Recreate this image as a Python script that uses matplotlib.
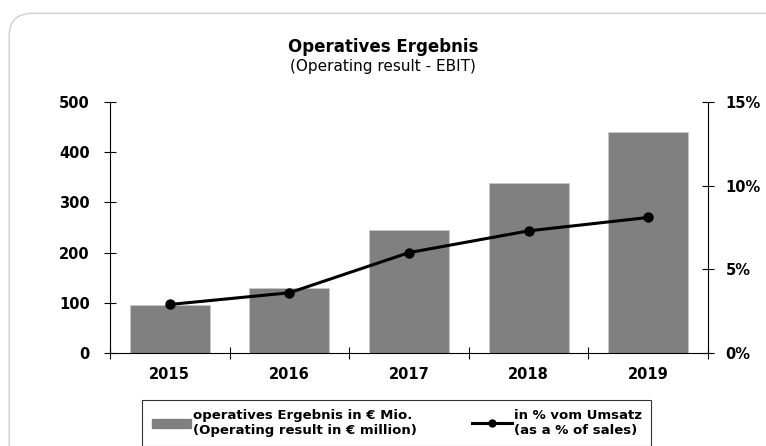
import numpy as np
import matplotlib.pyplot as plt
from matplotlib.patches import FancyBboxPatch, Patch
from matplotlib.lines import Line2D

years = ['2015', '2016', '2017', '2018', '2019']
ebit = [96, 129, 246, 338, 441]           # EUR million
ebit_pct = [2.9, 3.6, 6.0, 7.3, 8.1]      # % of sales

plt.rcParams['font.family'] = ['DejaVu Sans']
plt.rcParams['font.size'] = 10

fig = plt.figure(figsize=(7.66, 4.46), dpi=100)

# rounded outer frame (behind everything)
frame = FancyBboxPatch((0.012, -0.05), 1.05, 1.02, transform=fig.transFigure,
                       boxstyle='round,pad=0,rounding_size=0.03',
                       facecolor='white', edgecolor='#d0d0d0', linewidth=1.0,
                       mutation_aspect=766 / 446, zorder=-10)
fig.patches.append(frame)

ax = fig.add_axes([0.1436, 0.2085, 0.7807, 0.5628])
ax.set_facecolor('none')
x = np.arange(len(years))
ax.bar(x, ebit, width=0.67, color='#808080', edgecolor='#c8c8c8', linewidth=0.6, zorder=2)
ax.set_xlim(-0.5, len(years) - 0.5)
ax.set_ylim(0, 500)
ax.set_yticks(np.arange(0, 501, 100))
ax.set_xticks(x)
ax.set_xticklabels(years, fontweight='bold', fontsize=10.5)
ax.set_xticks(np.arange(-0.5, len(years), 1), minor=True)
ax.tick_params(axis='x', which='major', length=0, pad=10)
ax.tick_params(axis='x', which='minor', direction='inout', length=8, width=0.8)
ax.tick_params(axis='y', direction='inout', length=9, width=0.8, pad=10, labelsize=10.5)
for lab in ax.get_yticklabels():
    lab.set_fontweight('bold')
for s in ['top', 'right']:
    ax.spines[s].set_visible(False)
ax.spines['left'].set_linewidth(0.8)
ax.spines['bottom'].set_linewidth(0.8)

ax2 = ax.twinx()
ax2.plot(x, ebit_pct, color='black', linewidth=2.2, marker='o', markersize=6.5, zorder=3)
ax2.set_ylim(0, 15)
ax2.set_yticks([0, 5, 10, 15])
ax2.set_yticklabels(['0%', '5%', '10%', '15%'], fontweight='bold', fontsize=10.5)
ax2.tick_params(axis='y', direction='inout', length=9, width=0.8, pad=8)
for s in ['top', 'left', 'bottom']:
    ax2.spines[s].set_visible(False)
ax2.spines['right'].set_linewidth(0.8)

fig.text(0.5, 0.895, 'Operatives Ergebnis', ha='center', va='center',
         fontweight='bold', fontsize=12)
fig.text(0.5, 0.85, '(Operating result - EBIT)', ha='center', va='center', fontsize=11)

handles = [Patch(facecolor='#808080', edgecolor='#808080'),
           Line2D([0], [0], color='black', linewidth=2.2, marker='o', markersize=5)]
labels = ['operatives Ergebnis in € Mio.\n(Operating result in € million)',
          'in % vom Umsatz\n(as a % of sales)']
leg = fig.legend(handles, labels, ncol=2, loc='lower center',
                 bbox_to_anchor=(0.518, 0.0), frameon=True, fancybox=False,
                 edgecolor='black', prop={'weight': 'bold', 'size': 9.5},
                 handlelength=3.0, handletextpad=0.15, columnspacing=4.2,
                 borderpad=0.7, borderaxespad=0.0)
leg.get_frame().set_linewidth(0.8)

fig.savefig('out.png', dpi=100)
